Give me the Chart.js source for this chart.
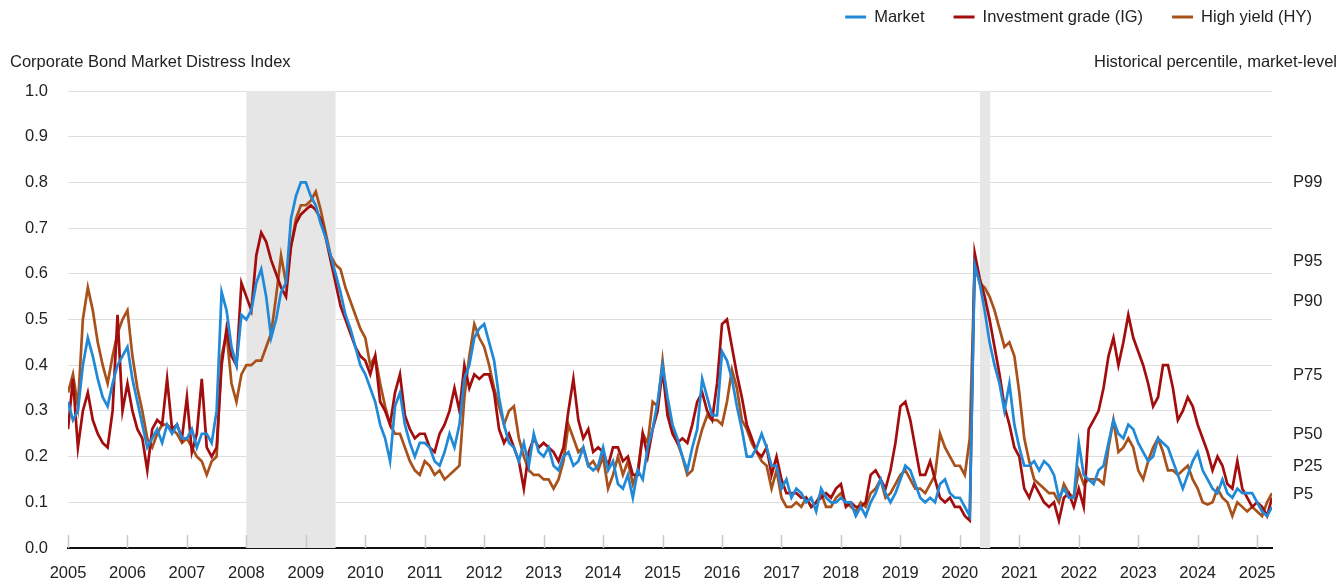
<!DOCTYPE html>
<html>
<head>
<meta charset="utf-8">
<title>Corporate Bond Market Distress Index</title>
<script src="https://cdn.jsdelivr.net/npm/chart.js@4.4.1/dist/chart.umd.min.js"></script>
<style>
  html, body { margin: 0; padding: 0; background: #fff; }
  #wrap { width: 1344px; height: 584px; }
</style>
</head>
<body>
<div id="wrap"><canvas id="distressChart" width="1344" height="584"></canvas></div>
<script>
// monthly readings, Jan 2005 .. Apr 2025 (one row per year)
var marketIndex = [
  0.32,0.28,0.30,0.40,0.46,0.42,0.37,0.33,0.31,0.36,0.40,0.42,
  0.44,0.37,0.32,0.27,0.22,0.24,0.26,0.23,0.27,0.25,0.27,0.24,
  0.24,0.26,0.22,0.25,0.25,0.23,0.30,0.56,0.52,0.44,0.40,0.51,
  0.50,0.52,0.58,0.61,0.55,0.46,0.50,0.56,0.58,0.72,0.77,0.80,
  0.80,0.77,0.75,0.71,0.68,0.64,0.60,0.56,0.51,0.48,0.44,0.40,
  0.38,0.35,0.32,0.27,0.24,0.19,0.31,0.34,0.27,0.23,0.20,0.23,
  0.23,0.22,0.19,0.18,0.21,0.25,0.22,0.27,0.37,0.40,0.46,0.48,
  0.49,0.45,0.41,0.33,0.27,0.23,0.22,0.19,0.23,0.18,0.25,0.21,
  0.20,0.22,0.18,0.17,0.20,0.21,0.18,0.19,0.22,0.18,0.17,0.18,
  0.22,0.17,0.19,0.14,0.13,0.16,0.11,0.17,0.15,0.22,0.26,0.32,
  0.40,0.33,0.27,0.24,0.20,0.17,0.22,0.26,0.37,0.33,0.29,0.29,
  0.43,0.41,0.37,0.31,0.26,0.20,0.20,0.22,0.25,0.22,0.18,0.18,
  0.13,0.15,0.11,0.13,0.12,0.10,0.11,0.08,0.13,0.11,0.10,0.10,
  0.11,0.10,0.10,0.07,0.09,0.07,0.10,0.12,0.15,0.12,0.10,0.12,
  0.15,0.18,0.17,0.14,0.11,0.10,0.11,0.10,0.14,0.15,0.12,0.11,
  0.11,0.09,0.07,0.62,0.58,0.52,0.45,0.40,0.36,0.30,0.36,0.27,
  0.22,0.18,0.18,0.19,0.17,0.19,0.18,0.16,0.11,0.13,0.11,0.11,
  0.23,0.16,0.15,0.14,0.17,0.18,0.23,0.28,0.25,0.24,0.27,0.26,
  0.23,0.21,0.19,0.20,0.24,0.23,0.22,0.19,0.16,0.13,0.16,0.19,
  0.21,0.17,0.15,0.13,0.12,0.15,0.12,0.11,0.13,0.12,0.12,0.12,
  0.10,0.08,0.07,0.09
];

var igIndex = [
  0.26,0.37,0.22,0.30,0.34,0.28,0.25,0.23,0.22,0.30,0.51,0.30,
  0.36,0.30,0.26,0.24,0.17,0.26,0.28,0.27,0.37,0.26,0.27,0.24,
  0.33,0.21,0.25,0.37,0.22,0.20,0.22,0.40,0.48,0.42,0.40,0.58,
  0.55,0.52,0.64,0.69,0.67,0.63,0.60,0.57,0.55,0.66,0.71,0.73,
  0.74,0.75,0.74,0.72,0.68,0.63,0.58,0.53,0.50,0.47,0.44,0.42,
  0.41,0.38,0.42,0.32,0.30,0.27,0.34,0.38,0.29,0.26,0.24,0.25,
  0.25,0.22,0.21,0.25,0.27,0.30,0.35,0.30,0.40,0.35,0.38,0.37,
  0.38,0.38,0.34,0.26,0.23,0.25,0.22,0.19,0.13,0.21,0.24,0.22,
  0.23,0.22,0.21,0.19,0.22,0.30,0.37,0.28,0.24,0.26,0.21,0.22,
  0.21,0.18,0.22,0.22,0.19,0.20,0.16,0.16,0.25,0.20,0.26,0.30,
  0.39,0.29,0.25,0.23,0.24,0.23,0.27,0.32,0.34,0.30,0.28,0.36,
  0.49,0.50,0.44,0.38,0.33,0.27,0.24,0.21,0.20,0.22,0.16,0.20,
  0.15,0.12,0.12,0.12,0.11,0.11,0.09,0.10,0.11,0.12,0.11,0.13,
  0.14,0.09,0.10,0.09,0.09,0.10,0.16,0.17,0.15,0.13,0.17,0.23,
  0.31,0.32,0.28,0.22,0.16,0.16,0.19,0.15,0.11,0.10,0.11,0.09,
  0.09,0.07,0.06,0.645,0.59,0.55,0.50,0.44,0.38,0.31,0.27,0.22,
  0.20,0.13,0.11,0.14,0.12,0.10,0.09,0.10,0.06,0.11,0.12,0.09,
  0.13,0.09,0.26,0.28,0.30,0.35,0.42,0.46,0.40,0.45,0.51,0.46,
  0.43,0.40,0.36,0.31,0.33,0.40,0.40,0.35,0.28,0.30,0.33,0.31,
  0.27,0.24,0.21,0.17,0.20,0.18,0.14,0.13,0.19,0.13,0.11,0.09,
  0.10,0.09,0.07,0.11
];

var hyIndex = [
  0.34,0.38,0.31,0.50,0.57,0.52,0.45,0.40,0.36,0.42,0.47,0.50,
  0.52,0.42,0.35,0.30,0.24,0.22,0.25,0.27,0.27,0.26,0.25,0.23,
  0.24,0.22,0.20,0.19,0.16,0.19,0.20,0.42,0.47,0.36,0.32,0.38,
  0.40,0.40,0.41,0.41,0.44,0.47,0.55,0.64,0.58,0.66,0.72,0.75,
  0.75,0.76,0.78,0.74,0.69,0.64,0.62,0.61,0.57,0.54,0.51,0.48,
  0.46,0.40,0.42,0.36,0.31,0.27,0.25,0.25,0.22,0.19,0.17,0.16,
  0.19,0.18,0.16,0.17,0.15,0.16,0.17,0.18,0.33,0.42,0.49,0.46,
  0.44,0.40,0.35,0.31,0.27,0.30,0.31,0.24,0.20,0.17,0.16,0.16,
  0.15,0.15,0.13,0.15,0.19,0.27,0.24,0.21,0.22,0.18,0.19,0.17,
  0.20,0.13,0.16,0.20,0.16,0.19,0.14,0.17,0.25,0.23,0.32,0.31,
  0.41,0.31,0.26,0.23,0.20,0.16,0.17,0.22,0.26,0.29,0.28,0.28,
  0.27,0.32,0.39,0.35,0.28,0.26,0.23,0.21,0.19,0.18,0.13,0.17,
  0.11,0.09,0.09,0.10,0.09,0.11,0.09,0.10,0.12,0.09,0.09,0.11,
  0.12,0.10,0.09,0.08,0.10,0.09,0.12,0.13,0.15,0.11,0.12,0.14,
  0.16,0.17,0.15,0.13,0.13,0.12,0.14,0.16,0.25,0.22,0.20,0.18,
  0.18,0.16,0.24,0.62,0.58,0.57,0.55,0.52,0.48,0.44,0.45,0.42,
  0.34,0.24,0.19,0.15,0.14,0.13,0.12,0.12,0.10,0.14,0.12,0.11,
  0.17,0.14,0.15,0.15,0.15,0.14,0.22,0.28,0.21,0.22,0.24,0.22,
  0.17,0.15,0.19,0.22,0.24,0.21,0.17,0.17,0.16,0.17,0.18,0.15,
  0.13,0.10,0.095,0.10,0.13,0.11,0.10,0.07,0.10,0.09,0.08,0.09,
  0.08,0.07,0.10,0.12
];

var seriesNames = ['Market', 'Investment grade (IG)', 'High yield (HY)'];
var seriesColors = ['#2089d8', '#a30d0d', '#a9511a'];

var yearTicks = [2005,2006,2007,2008,2009,2010,2011,2012,2013,2014,2015,
                 2016,2017,2018,2019,2020,2021,2022,2023,2024,2025];

// right-hand percentile markers (market-level)
var pctLabels = ['P5', 'P25', 'P50', 'P75', 'P90', 'P95', 'P99'];
var pctValues = [0.117, 0.178, 0.248, 0.378, 0.540, 0.626, 0.800];

// shaded recessions, in decimal years
var recessions = [[2008.0, 2009.5], [2020.34, 2020.51]];

var leftTitle = 'Corporate Bond Market Distress Index';
var rightTitle = 'Historical percentile, market-level';

// decimal-year stamp for each monthly reading
var months = [];
for (var i = 0; i < marketIndex.length; i++) {
    months.push(2005 + Math.floor(i / 12) + (i % 12) / 12);
}

function toPoints(values) {
    return values.map(function(v, i) { return {x: months[i], y: v}; });
}

var FONT = 'Arial, "Liberation Sans", sans-serif';
var TEXT = '#222';

// shading, small inner tick marks, headers and legend
var decorPlugin = {
    id: 'decor',
    beforeDatasetsDraw: function(chart) {
        var ctx = chart.ctx, area = chart.chartArea, xs = chart.scales.x;
        ctx.save();
        ctx.fillStyle = '#e6e6e6';
        recessions.forEach(function(r) {
            var x0 = xs.getPixelForValue(r[0]), x1 = xs.getPixelForValue(r[1]);
            ctx.fillRect(x0, area.top, x1 - x0, area.bottom - area.top);
        });
        ctx.strokeStyle = '#c8c8c8';
        ctx.lineWidth = 1.5;
        yearTicks.forEach(function(y) {
            var px = Math.round(xs.getPixelForValue(y)) + 0.5;
            ctx.beginPath();
            ctx.moveTo(px, area.bottom - 13);
            ctx.lineTo(px, area.bottom);
            ctx.stroke();
        });
        ctx.restore();
    },
    afterDraw: function(chart) {
        var ctx = chart.ctx;
        ctx.save();
        ctx.font = '16.5px ' + FONT;
        ctx.fillStyle = TEXT;
        ctx.textBaseline = 'middle';
        ctx.textAlign = 'left';
        ctx.fillText(leftTitle, 10, 62);
        ctx.textAlign = 'right';
        ctx.fillText(rightTitle, 1337, 62);

        // legend, right aligned
        ctx.textAlign = 'left';
        var x = 1312, ly = 17;
        for (var i = chart.data.datasets.length - 1; i >= 0; i--) {
            var ds = chart.data.datasets[i];
            var w = ctx.measureText(ds.label).width;
            var tx = x - w;
            ctx.fillStyle = TEXT;
            ctx.fillText(ds.label, tx, ly);
            ctx.strokeStyle = ds.borderColor;
            ctx.lineWidth = 3;
            ctx.beginPath();
            ctx.moveTo(tx - 29, ly);
            ctx.lineTo(tx - 8, ly);
            ctx.stroke();
            x = tx - 29 - 29;
        }
        ctx.restore();
    }
};

var ctx = document.getElementById('distressChart').getContext('2d');

var chart = new Chart(ctx, {
    type: 'line',
    data: {
        datasets: [
            { label: seriesNames[0], data: toPoints(marketIndex), borderColor: seriesColors[0], backgroundColor: seriesColors[0] },
            { label: seriesNames[1], data: toPoints(igIndex), borderColor: seriesColors[1], backgroundColor: seriesColors[1] },
            { label: seriesNames[2], data: toPoints(hyIndex), borderColor: seriesColors[2], backgroundColor: seriesColors[2] }
        ]
    },
    options: {
        responsive: false,
        animation: false,
        devicePixelRatio: 1,
        layout: { padding: { top: 91, left: 0, right: 0, bottom: 0 } },
        elements: {
            line: { borderWidth: 2.7, tension: 0, fill: false },
            point: { radius: 0, hoverRadius: 0 }
        },
        plugins: {
            legend: { display: false },
            tooltip: { enabled: false }
        },
        scales: {
            x: {
                type: 'linear',
                min: 2005,
                max: 2025.25,
                afterBuildTicks: function(scale) {
                    scale.ticks = yearTicks.map(function(v) { return {value: v}; });
                },
                afterFit: function(scale) { scale.height = 36; },
                grid: { display: false, drawTicks: false },
                border: { display: true, color: '#111', width: 2 },
                ticks: {
                    autoSkip: false,
                    maxRotation: 0,
                    padding: 16,
                    color: TEXT,
                    font: { family: FONT, size: 16.5 },
                    callback: function(v) { return String(v); }
                }
            },
            y: {
                position: 'left',
                min: 0,
                max: 1,
                afterFit: function(scale) { scale.width = 68; },
                grid: {
                    drawTicks: false,
                    color: function(c) { return c.tick && c.tick.value === 0 ? 'rgba(0,0,0,0)' : '#dedede'; },
                    lineWidth: 1
                },
                border: { display: false },
                ticks: {
                    stepSize: 0.1,
                    padding: 20,
                    color: TEXT,
                    font: { family: FONT, size: 16.5 },
                    callback: function(v) { return v.toFixed(1); }
                }
            },
            pct: {
                position: 'right',
                min: 0,
                max: 1,
                afterBuildTicks: function(scale) {
                    scale.ticks = pctValues.map(function(v) { return {value: v}; });
                },
                afterFit: function(scale) { scale.width = 72; },
                grid: { display: false, drawTicks: false },
                border: { display: false },
                ticks: {
                    autoSkip: false,
                    padding: 21,
                    color: TEXT,
                    font: { family: FONT, size: 16.5 },
                    callback: function(v, i) { return pctLabels[i]; }
                }
            }
        }
    },
    plugins: [decorPlugin]
});
</script>
</body>
</html>
